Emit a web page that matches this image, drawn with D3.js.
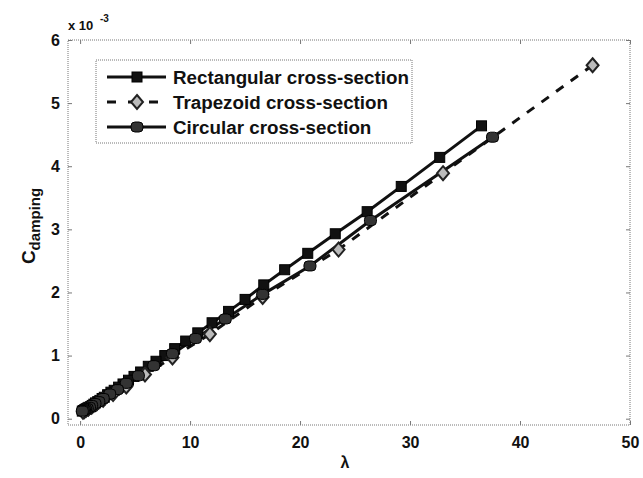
<!DOCTYPE html>
<html>
<head>
<meta charset="utf-8">
<script src="https://cdn.jsdelivr.net/npm/d3@7"></script>
<style>
  body { margin: 0; background: #fff; }
  svg { display: block; font-family: "Liberation Sans", Arial, sans-serif; }
</style>
</head>
<body>
<div id="chart"></div>
<script>
// values, C in units of 1e-3
const rectLambda = [36.5, 32.7, 29.2, 26.1, 23.2, 20.7, 18.6, 16.7, 15.0, 13.5, 12.0, 10.7, 9.6, 8.6, 7.7, 6.9, 6.2, 5.5, 4.9, 4.4, 3.9, 3.5, 3.1, 2.8, 2.5, 2.2, 2.0, 1.8, 1.6, 1.4, 1.25, 1.1, 0.95, 0.8, 0.7, 0.6, 0.5, 0.4, 0.3, 0.2];
const rectC = [4.64, 4.14, 3.68, 3.28, 2.93, 2.62, 2.36, 2.12, 1.89, 1.70, 1.52, 1.36, 1.23, 1.11, 1.00, 0.91, 0.83, 0.74, 0.67, 0.61, 0.55, 0.50, 0.45, 0.42, 0.38, 0.34, 0.32, 0.29, 0.27, 0.25, 0.23, 0.21, 0.19, 0.18, 0.17, 0.16, 0.15, 0.14, 0.13, 0.12];

const trapLambda = [46.6, 33.0, 23.5, 16.6, 11.8, 8.4, 5.9, 4.2, 3.0, 2.1, 1.5, 1.05, 0.75, 0.53, 0.37, 0.26];
const trapC = [5.60, 3.89, 2.68, 1.93, 1.34, 0.97, 0.70, 0.51, 0.39, 0.30, 0.24, 0.19, 0.16, 0.14, 0.12, 0.11];

const circLambda = [37.5, 26.4, 20.9, 16.6, 13.2, 10.5, 8.4, 6.7, 5.3, 4.2, 3.4, 2.7, 2.1, 1.7, 1.35, 1.05, 0.85, 0.65, 0.5, 0.4, 0.3, 0.2];
const circC = [4.46, 3.14, 2.42, 1.97, 1.58, 1.27, 1.03, 0.84, 0.68, 0.56, 0.46, 0.39, 0.32, 0.27, 0.24, 0.21, 0.18, 0.16, 0.15, 0.14, 0.13, 0.12];

const xTicks = [0, 10, 20, 30, 40, 50];
const yTicks = [0, 1, 2, 3, 4, 5, 6];
const seriesNames = ["Rectangular cross-section", "Trapezoid cross-section", "Circular cross-section"];

const width = 643, height = 478;
const margin = { top: 40, right: 13, bottom: 53, left: 68 };

const svg = d3.select("#chart").append("svg")
  .attr("width", width)
  .attr("height", height);

const x = d3.scaleLinear().domain([-1.1, 50]).range([margin.left, width - margin.right]);
const y = d3.scaleLinear().domain([-0.1, 6]).range([height - margin.bottom, margin.top]);

const toPts = (xs, ys) => xs.map((v, i) => ({ x: v, y: ys[i] }));
const series = [
  { name: seriesNames[0], pts: toPts(rectLambda, rectC), dash: null, marker: "square" },
  { name: seriesNames[1], pts: toPts(trapLambda, trapC), dash: "9,9", marker: "diamond" },
  { name: seriesNames[2], pts: toPts(circLambda, circC), dash: null, marker: "circle" }
];

// axes box
const x0 = margin.left, x1 = width - margin.right;
const y0 = margin.top, y1 = height - margin.bottom;
svg.append("rect")
  .attr("x", x0).attr("y", y0)
  .attr("width", x1 - x0).attr("height", y1 - y0)
  .attr("fill", "none")
  .attr("stroke", "#777")
  .attr("stroke-dasharray", "1,1");

// x axis
const xAxis = svg.append("g")
  .attr("transform", `translate(0,${y1})`)
  .call(d3.axisBottom(x).tickValues(xTicks).tickSize(-4).tickPadding(12));
const xTop = svg.append("g")
  .attr("transform", `translate(0,${y0})`)
  .call(d3.axisTop(x).tickValues(xTicks).tickSize(-4).tickFormat(""));
const yAxis = svg.append("g")
  .attr("transform", `translate(${x0},0)`)
  .call(d3.axisLeft(y).tickValues(yTicks).tickSize(-4).tickPadding(8).tickFormat(d3.format("d")));
const yRight = svg.append("g")
  .attr("transform", `translate(${x1},0)`)
  .call(d3.axisRight(y).tickValues(yTicks).tickSize(-4).tickFormat(""));

[xAxis, xTop, yAxis, yRight].forEach(g => {
  g.select(".domain").remove();
  g.selectAll(".tick line").attr("stroke", "#777");
  g.selectAll("text")
    .attr("fill", "#111")
    .style("font-size", "16px")
    .style("font-weight", "bold");
});

// lines
const line = d3.line().x(d => x(d.x)).y(d => y(d.y));

function drawMarker(g, kind, cx, cy) {
  if (kind === "square") {
    g.append("rect")
      .attr("x", cx - 5).attr("y", cy - 5)
      .attr("width", 10).attr("height", 10)
      .attr("fill", "#111").attr("stroke", "#000").attr("stroke-width", 1);
  } else if (kind === "diamond") {
    g.append("path")
      .attr("d", `M${cx},${cy - 7}L${cx + 6},${cy}L${cx},${cy + 7}L${cx - 6},${cy}Z`)
      .attr("fill", "#bbb").attr("stroke", "#222").attr("stroke-width", 2);
  } else {
    g.append("rect")
      .attr("x", cx - 6).attr("y", cy - 5)
      .attr("width", 12).attr("height", 10)
      .attr("rx", 4)
      .attr("fill", "#333").attr("stroke", "#000").attr("stroke-width", 1);
  }
}

series.forEach(s => {
  svg.append("path")
    .datum(s.pts)
    .attr("d", line)
    .attr("fill", "none")
    .attr("stroke", "#111")
    .attr("stroke-width", 3)
    .attr("stroke-dasharray", s.dash);
});

series.forEach(s => {
  const g = svg.append("g");
  s.pts.forEach(p => drawMarker(g, s.marker, x(p.x), y(p.y)));
});

// legend
const legend = svg.append("g").attr("transform", "translate(96,60)");
legend.append("rect")
  .attr("width", 316).attr("height", 83)
  .attr("fill", "#fff")
  .attr("stroke", "#777")
  .attr("stroke-dasharray", "1,1");

series.forEach((s, i) => {
  const ly = 17 + i * 25;
  legend.append("line")
    .attr("x1", 11).attr("x2", 70)
    .attr("y1", ly).attr("y2", ly)
    .attr("stroke", "#111")
    .attr("stroke-width", 3)
    .attr("stroke-dasharray", s.dash ? "9,12" : null);
  drawMarker(legend, s.marker, 41, ly);
  legend.append("text")
    .attr("x", 77).attr("y", ly)
    .attr("dy", "0.35em")
    .attr("fill", "#111")
    .style("font-size", "18.8px")
    .style("font-weight", "bold")
    .text(s.name);
});

// labels
svg.append("text")
  .attr("x", 68).attr("y", 30)
  .attr("fill", "#111")
  .style("font-size", "13px")
  .style("font-weight", "bold")
  .text("x 10");
svg.append("text")
  .attr("x", 100).attr("y", 22)
  .attr("fill", "#111")
  .style("font-size", "10px")
  .style("font-weight", "bold")
  .text("-3");

const yl = svg.append("text")
  .attr("transform", "translate(35,226) rotate(-90)")
  .attr("text-anchor", "middle")
  .attr("fill", "#111")
  .style("font-weight", "bold");
yl.append("tspan").style("font-size", "19px").text("C");
yl.append("tspan").attr("dy", 5).style("font-size", "15px").text("damping");

svg.append("text")
  .attr("x", 345).attr("y", 468)
  .attr("text-anchor", "middle")
  .attr("fill", "#111")
  .style("font-size", "16px")
  .style("font-weight", "bold")
  .text("λ");
</script>
</body>
</html>
